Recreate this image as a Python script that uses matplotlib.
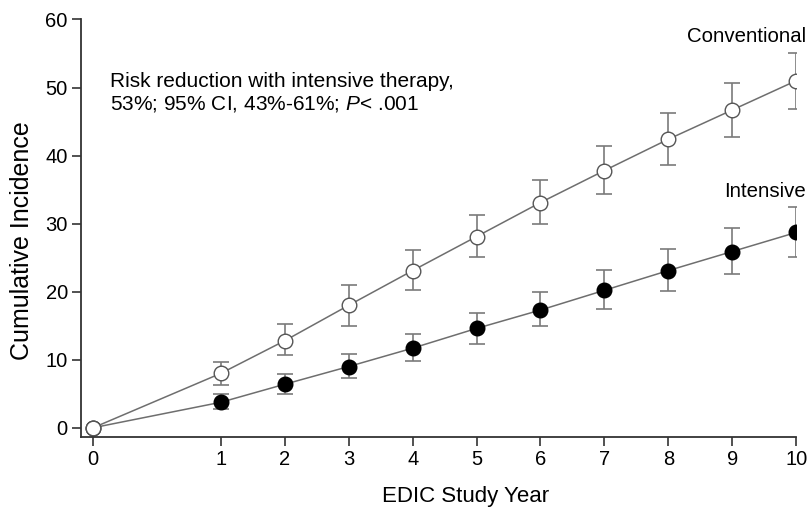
import numpy as np
import matplotlib
matplotlib.use("Agg")
import matplotlib.pyplot as plt

plt.rcParams["font.family"] = ["Liberation Sans", "DejaVu Sans"]
plt.rcParams["mathtext.fontset"] = "custom"
plt.rcParams["mathtext.it"] = "Liberation Sans:italic"
plt.rcParams["mathtext.rm"] = "Liberation Sans"

# EDIC study year
years = [0, 1, 2, 3, 4, 5, 6, 7, 8, 9, 10]

# Conventional therapy: cumulative incidence with 95% CI
conv = [0, 8.0, 12.8, 18.0, 23.1, 28.1, 33.1, 37.8, 42.4, 46.7, 51.0]
conv_lo = [0, 6.3, 10.7, 14.9, 20.3, 25.1, 29.9, 34.4, 38.6, 42.8, 46.8]
conv_hi = [0, 9.6, 15.2, 21.0, 26.1, 31.3, 36.4, 41.4, 46.2, 50.6, 55.1]

# Intensive therapy
inten = [0, 3.75, 6.4, 9.0, 11.7, 14.6, 17.3, 20.2, 23.1, 25.9, 28.7]
inten_lo = [0, 2.7, 4.9, 7.3, 9.8, 12.3, 14.9, 17.4, 20.1, 22.6, 25.1]
inten_hi = [0, 5.0, 7.9, 10.8, 13.75, 16.9, 19.9, 23.2, 26.2, 29.3, 32.4]

y_ticks = [0, 10, 20, 30, 40, 50, 60]


# year 0 -> 1 is drawn twice as wide as the other intervals
def fwd(x):
    x = np.asarray(x, dtype=float)
    return np.where(x < 1, 2 * x - 1, x)


def inv(p):
    p = np.asarray(p, dtype=float)
    return np.where(p < 1, (p + 1) / 2, p)


fig = plt.figure(figsize=(8.09, 5.09), dpi=100)
ax = fig.add_axes([0.1001, 0.1409, 0.884, 0.8208])
ax.set_xscale("function", functions=(fwd, inv))

grey = "#6e6e6e"


def draw(y, lo, hi, face, z):
    y = np.array(y)
    x = np.array(years)
    m = x > 0
    err = [(y - np.array(lo))[m], (np.array(hi) - y)[m]]
    ax.errorbar(x[m], y[m], yerr=err, fmt="none",
                ecolor="#7a7a7a", elinewidth=1.2, capsize=6, capthick=1.2, zorder=z)
    ax.plot(x, y, color=grey, lw=1.1, zorder=z + 1)
    ax.plot(x, y, "o", ms=10.5, mfc=face, mec="#555555" if face == "white" else "black",
            mew=1.0, zorder=z + 2)


draw(inten, inten_lo, inten_hi, "black", 2)
draw(conv, conv_lo, conv_hi, "white", 5)

ax.set_xlim(inv(-1.19), 10)
ax.set_ylim(-1.4, 60)
ax.set_xticks(years)
ax.set_xticklabels([str(v) for v in years])
ax.set_yticks(y_ticks)

for s in ["top", "right"]:
    ax.spines[s].set_visible(False)
for s in ["left", "bottom"]:
    ax.spines[s].set_color("#333333")
    ax.spines[s].set_linewidth(1.3)
ax.tick_params(direction="out", length=6.5, width=1.2, color="#333333",
               labelsize=14.5, pad=3)

ax.set_xlabel("EDIC Study Year", fontsize=16, va="baseline")
ax.xaxis.set_label_coords(0.538, -0.155)
ax.set_ylabel("Cumulative Incidence", fontsize=18, va="center", ha="center")
ax.yaxis.set_label_coords(-0.0825, 0.47)

ax.annotate("Conventional", (10, 56.7), xytext=(7, 0), textcoords="offset points",
            ha="right", va="baseline", fontsize=14.7, annotation_clip=False)
ax.annotate("Intensive", (10, 33.9), xytext=(7, 0), textcoords="offset points",
            ha="right", va="baseline", fontsize=14.7, annotation_clip=False)
ax.text(0.133, 50.1, "Risk reduction with intensive therapy,",
        ha="left", va="baseline", fontsize=15)
ax.text(0.133, 46.7, "53%; 95% CI, 43%-61%; $\\it{P}$< .001",
        ha="left", va="baseline", fontsize=15)

fig.savefig("out.png", dpi=100)
